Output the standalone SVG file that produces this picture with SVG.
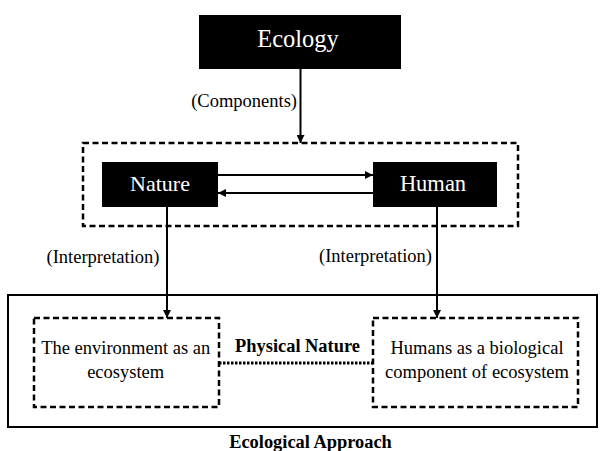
<svg xmlns="http://www.w3.org/2000/svg" width="601" height="451" viewBox="0 0 601 451">
<defs>
<marker id="ah" viewBox="0 0 10 10" refX="10" refY="5" markerWidth="9" markerHeight="8" orient="auto-start-reverse" markerUnits="userSpaceOnUse">
<path d="M0,0 L10,5 L0,10 z" fill="#000"/>
</marker>
<style>
text{font-family:"Liberation Serif","Times New Roman",serif}
.blk{fill:#000}
.wt{fill:#fff;text-anchor:middle}
.lbl{font-size:18.5px}
.dash{fill:none;stroke:#000;stroke-width:2.5;stroke-dasharray:6,3.5}
.ln{stroke:#000;stroke-width:2;fill:none}
.bx{font-size:18.5px;text-anchor:middle}
.bold{font-weight:bold;font-size:18.4px;text-anchor:middle}
</style>
</defs>
<rect width="601" height="451" fill="#fff"/>
<g id="ecology">
<rect class="blk" x="199" y="15" width="202" height="54"/>
<text class="wt" x="298" y="47" font-size="24.5">Ecology</text>
</g>
<g id="components-group">
<rect class="dash" x="83" y="143" width="435" height="83"/>
</g>
<g id="nature">
<rect class="blk" x="102" y="162" width="116" height="45"/>
<text class="wt" x="160" y="190.5" font-size="22">Nature</text>
</g>
<g id="human">
<rect class="blk" x="373" y="162" width="124" height="45"/>
<text class="wt" x="433" y="190.5" font-size="22.5">Human</text>
</g>
<g id="ecological-approach">
<rect x="8" y="295" width="589" height="132" fill="none" stroke="#000" stroke-width="2"/>
<text class="bold" x="310.5" y="447.5" font-size="18.5">Ecological Approach</text>
</g>
<g id="environment">
<rect class="dash" x="34" y="318" width="185" height="89"/>
<text class="bx" x="125.7" y="354">The environment as an</text>
<text class="bx" x="125.7" y="377.5">ecosystem</text>
</g>
<g id="humans-bio">
<rect class="dash" x="373" y="318" width="205" height="89"/>
<text class="bx" x="477" y="354">Humans as a biological</text>
<text class="bx" x="477" y="377.5">component of ecosystem</text>
</g>
<g id="connectors">
<line class="ln" x1="300.5" y1="69" x2="300.5" y2="143" marker-end="url(#ah)"/>
<text class="lbl" x="297" y="106.7" text-anchor="end">(Components)</text>
<line class="ln" x1="218" y1="175" x2="373" y2="175" marker-end="url(#ah)"/>
<line class="ln" x1="373" y1="193" x2="218" y2="193" marker-end="url(#ah)"/>
<line class="ln" x1="167" y1="207" x2="167" y2="318" marker-end="url(#ah)"/>
<text class="lbl" x="159.5" y="263.3" text-anchor="end">(Interpretation)</text>
<line class="ln" x1="437" y1="207" x2="437" y2="318" marker-end="url(#ah)"/>
<text class="lbl" x="432" y="262" text-anchor="end">(Interpretation)</text>
<line x1="219" y1="363" x2="373" y2="363" stroke="#000" stroke-width="3" stroke-dasharray="2.5,1.5"/>
<text class="bold" x="297.5" y="351.7">Physical Nature</text>
</g>
</svg>
